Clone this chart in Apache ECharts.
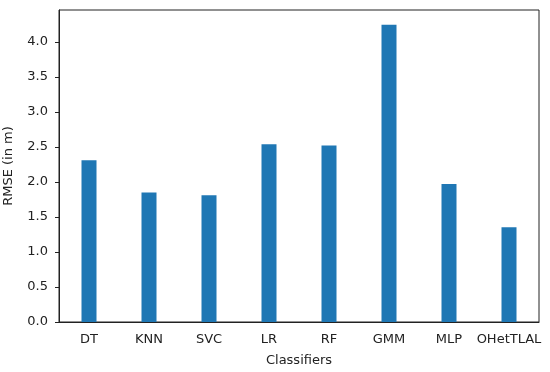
<!DOCTYPE html>
<html>
<head>
<meta charset="utf-8">
<script src="https://cdn.jsdelivr.net/npm/echarts@6/dist/echarts.min.js"></script>
<style>html,body{margin:0;padding:0;background:#fff;}#c{width:550px;height:372px;}</style>
</head>
<body>
<div id="c"></div>
<script>
var categories = ["DT", "KNN", "SVC", "LR", "RF", "GMM", "MLP", "OHetTLAL"];
var rmseValues = [2.31, 1.85, 1.81, 2.54, 2.52, 4.245, 1.97, 1.355];
var yMax = 4.457;

var chart = echarts.init(document.getElementById('c'), null, {renderer: 'canvas'});
var font = 'DejaVu Sans';
var txt = '#222';
chart.setOption({
  animation: false,
  backgroundColor: '#ffffff',
  grid: {left: 59, right: 11, top: 10, bottom: 50, containLabel: false, outerBoundsMode: 'none',
    show: true, borderColor: '#222', borderWidth: 1, backgroundColor: 'transparent'},
  xAxis: {
    type: 'category',
    data: categories,
    name: 'Classifiers',
    nameLocation: 'middle',
    nameGap: 32,
    nameTextStyle: {fontFamily: font, fontSize: 13, color: txt},
    axisLine: {lineStyle: {color: '#222', width: 1}},
    axisTick: {alignWithLabel: true, length: 4, lineStyle: {color: '#222'}},
    axisLabel: {fontFamily: font, fontSize: 13, color: txt, margin: 11, interval: 0, hideOverlap: false}
  },
  yAxis: {
    type: 'value',
    min: 0,
    max: yMax,
    interval: 0.5,
    name: 'RMSE (in m)',
    nameLocation: 'middle',
    nameGap: 44,
    nameTextStyle: {fontFamily: font, fontSize: 13, color: txt},
    splitLine: {show: false},
    axisLine: {show: true, lineStyle: {color: '#222', width: 1}},
    axisTick: {show: true, length: 4, lineStyle: {color: '#222'}},
    axisLabel: {fontFamily: font, fontSize: 13, color: txt, margin: 11, showMaxLabel: false,
      formatter: function (v) { return v.toFixed(1); }}
  },
  series: [{
    type: 'bar',
    data: rmseValues,
    barWidth: 15,
    itemStyle: {color: '#1f77b4'}
  }]
});
</script>
</body>
</html>
